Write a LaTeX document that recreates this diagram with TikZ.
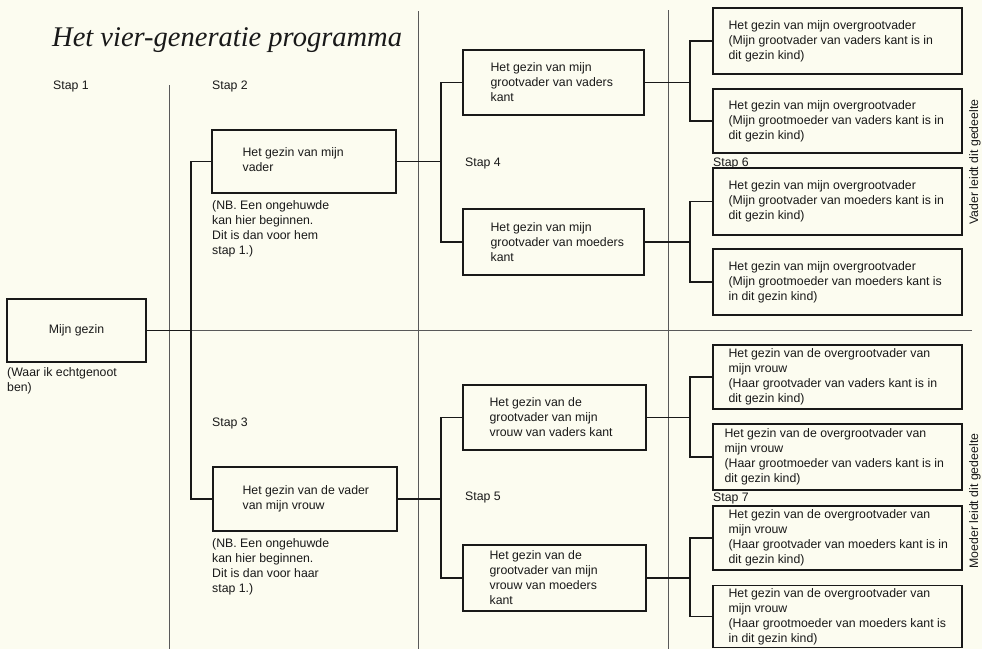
\documentclass[tikz,border=0pt]{standalone}
\usepackage{fontspec}
\setmainfont{Liberation Sans}
\newfontfamily\titlefont{Liberation Serif}
\usetikzlibrary{calc}
\definecolor{paper}{RGB}{252,252,240}
\definecolor{ink}{RGB}{25,25,25}
\begin{document}
\begin{tikzpicture}[x=1pt,y=-1pt,
  every node/.style={font=\fontsize{12.3}{15}\selectfont, text=ink},
  fam/.style={draw=ink, line width=1.2pt, rectangle, align=left, inner sep=0pt},
  txt/.style={anchor=west, align=left, inner sep=0pt},
  lbl/.style={anchor=west, inner sep=0pt},
  note/.style={anchor=north west, align=left, inner sep=0pt},
  conn/.style={draw=ink, line width=1.2pt},
  divider/.style={draw=black!65, line width=0.7pt}]

\fill[paper] (0,0) rectangle (982,649);
\useasboundingbox (0,0) rectangle (982,649);

% dividers
\draw[divider] (169,85) -- (169,649);
\draw[divider] (418,11) -- (418,649);
\draw[divider] (668,10) -- (668,649);
\draw[divider] (169,330) -- (972,330);

% title
\node[anchor=base west, inner sep=0pt, font=\titlefont\itshape\fontsize{28.5}{30}\selectfont] (title) at (52,46) {Het vier-generatie programma};

% step labels
\node[lbl] (s1) at (53,86) {Stap 1};
\node[lbl] (s2) at (212,86) {Stap 2};
\node[lbl] (s3) at (212,423) {Stap 3};
\node[lbl] (s4) at (465,163) {Stap 4};
\node[lbl] (s5) at (465,497) {Stap 5};
\node[lbl] (s6) at (713,163) {Stap 6};
\node[lbl] (s7) at (713,498) {Stap 7};

% column 1
\node[fam, minimum width=139pt, minimum height=63pt] (gezin) at (76.5,330.5) {Mijn gezin};
\node[note] (ngezin) at (7,367) {(Waar ik echtgenoot\\ben)};

% column 2
\node[fam, minimum width=184pt, minimum height=63pt] (vader) at (304,161.5) {};
\node[txt] (vadert) at ([xshift=31pt,yshift=2pt]vader.west) {Het gezin van mijn\\vader};
\node[note] (nvader) at (212,200) {(NB. Een ongehuwde\\kan hier beginnen.\\Dit is dan voor hem\\stap 1.)};
\node[fam, minimum width=184pt, minimum height=64pt] (vvader) at (305,499) {};
\node[txt] (vvadert) at ([xshift=30pt]vvader.west) {Het gezin van de vader\\van mijn vrouw};
\node[note] (nvvader) at (212,538) {(NB. Een ongehuwde\\kan hier beginnen.\\Dit is dan voor haar\\stap 1.)};

% column 3
\node[fam, minimum width=181pt, minimum height=65pt] (gvv) at (553.5,82.5) {};
\node[txt] (gvvt) at ([xshift=28pt]gvv.west) {Het gezin van mijn\\grootvader van vaders\\kant};
\node[fam, minimum width=181pt, minimum height=66pt] (gvm) at (553.5,242) {};
\node[txt] (gvmt) at ([xshift=28pt]gvm.west) {Het gezin van mijn\\grootvader van moeders\\kant};
\node[fam, minimum width=183pt, minimum height=65pt] (wgvv) at (554.5,417.5) {};
\node[txt] (wgvvt) at ([xshift=27pt]wgvv.west) {Het gezin van de\\grootvader van mijn\\vrouw van vaders kant};
\node[fam, minimum width=183pt, minimum height=66pt] (wgvm) at (554.5,578) {};
\node[txt] (wgvmt) at ([xshift=27pt]wgvm.west) {Het gezin van de\\grootvader van mijn\\vrouw van moeders\\kant};

% column 4
\node[fam, minimum width=249pt, minimum height=66pt] (r1) at (837.5,41) {};
\node[txt] (r1t) at ([xshift=16pt]r1.west) {Het gezin van mijn overgrootvader\\(Mijn grootvader van vaders kant is in\\dit gezin kind)};
\node[fam, minimum width=249pt, minimum height=64pt] (r2) at (837.5,121) {};
\node[txt] (r2t) at ([xshift=16pt]r2.west) {Het gezin van mijn overgrootvader\\(Mijn grootmoeder van vaders kant is in\\dit gezin kind)};
\node[fam, minimum width=249pt, minimum height=67pt] (r3) at (837.5,201.5) {};
\node[txt] (r3t) at ([xshift=16pt]r3.west) {Het gezin van mijn overgrootvader\\(Mijn grootvader van moeders kant is in\\dit gezin kind)};
\node[fam, minimum width=249pt, minimum height=66pt] (r4) at (837.5,282) {};
\node[txt] (r4t) at ([xshift=16pt]r4.west) {Het gezin van mijn overgrootvader\\(Mijn grootmoeder van moeders kant is\\in dit gezin kind)};
\node[fam, minimum width=249pt, minimum height=64pt] (r5) at (837.5,377) {};
\node[txt] (r5t) at ([xshift=16pt]r5.west) {Het gezin van de overgrootvader van\\mijn vrouw\\(Haar grootvader van vaders kant is in\\dit gezin kind)};
\node[fam, minimum width=249pt, minimum height=66pt] (r6) at (837.5,457) {};
\node[txt] (r6t) at ([xshift=12pt]r6.west) {Het gezin van de overgrootvader van\\mijn vrouw\\(Haar grootmoeder van vaders kant is in\\dit gezin kind)};
\node[fam, minimum width=249pt, minimum height=64pt] (r7) at (837.5,538) {};
\node[txt] (r7t) at ([xshift=16pt]r7.west) {Het gezin van de overgrootvader van\\mijn vrouw\\(Haar grootvader van moeders kant is in\\dit gezin kind)};
\node[fam, minimum width=249pt, minimum height=62pt] (r8) at (837.5,616.5) {};
\node[txt] (r8t) at ([xshift=16pt]r8.west) {Het gezin van de overgrootvader van\\mijn vrouw\\(Haar grootmoeder van moeders kant is\\in dit gezin kind)};

% side labels
\node[rotate=90, inner sep=0pt] (side1) at (975,162) {Vader leidt dit gedeelte};
\node[rotate=90, inner sep=0pt] (side2) at (975,501) {Moeder leidt dit gedeelte};

% junction columns
\coordinate (j1) at (191,0);
\coordinate (j2) at (441,0);
\coordinate (j3) at (690,0);

% connectors
\draw[conn] (gezin.east) -- (gezin.east -| j1);
\draw[conn] (vader.west) -| (j1 |- gezin.east) |- (vvader.west);

\draw[conn] (vader.east) -- (vader.east -| j2);
\draw[conn] (gvv.west) -| (j2 |- vader.east) |- (gvm.west);
\draw[conn] (vvader.east) -- (vvader.east -| j2);
\draw[conn] (wgvv.west) -| (j2 |- vvader.east) |- (wgvm.west);

\draw[conn] (gvv.east) -- (gvv.east -| j3);
\draw[conn] (r1.west) -| (j3 |- gvv.east) |- (r2.west);
\draw[conn] (gvm.east) -- (gvm.east -| j3);
\draw[conn] (r3.west) -| (j3 |- gvm.east) |- (r4.west);
\draw[conn] (wgvv.east) -- (wgvv.east -| j3);
\draw[conn] (r5.west) -| (j3 |- wgvv.east) |- (r6.west);
\draw[conn] (wgvm.east) -- (wgvm.east -| j3);
\draw[conn] (r7.west) -| (j3 |- wgvm.east) |- (r8.west);
\end{tikzpicture}
\end{document}
